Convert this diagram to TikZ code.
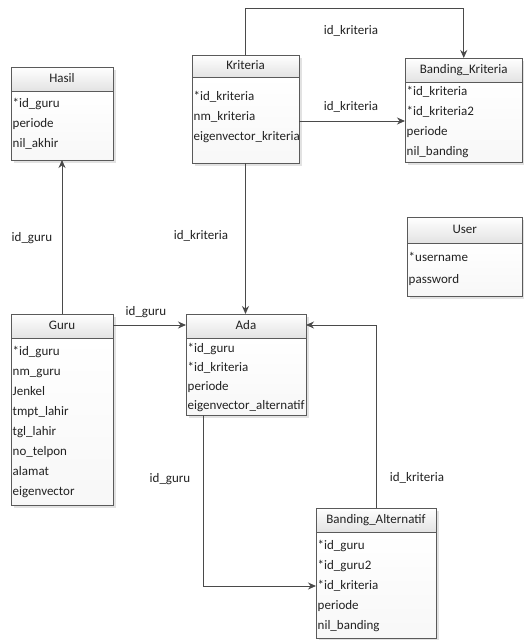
\documentclass[tikz,border=0pt]{standalone}
\usepackage{fontspec}
\setmainfont{Carlito}
\usetikzlibrary{arrows.meta}
\definecolor{framec}{HTML}{5A5A5A}
\definecolor{linec}{HTML}{4A4A4A}
\definecolor{txtc}{HTML}{222222}
\definecolor{shadowc}{HTML}{E2E2E2}
\newcommand{\rp}{20}
% #1 name, #2 left, #3 top, #4 right, #5 header bottom, #6 bottom, #7 title, #8 first row y, #9 rows
\newcommand{\erbox}[9]{%
  \fill[shadowc] (#2+2.5,#3+2.5) rectangle (#4+2.5,#6+2.5);
  \shade[top color=white,bottom color=gray!6] (#2,#5) rectangle (#4,#6);
  \shade[top color=white,bottom color=gray!22] (#2,#3) rectangle (#4,#5);
  \node[erframe, minimum width=#4-#2, minimum height=#6-#3, anchor=north west] (#1) at (#2,#3) {};
  \draw[erline] (#2,#5) -- (#4,#5);
  \node[hdrtxt] (#1-title) at ({(#2+#4)/2},{(#3+#5)/2}) {#7};
  \foreach \rowt [count=\i] in {#9} {\node[rowtxt] (#1-row\i) at (#2+1.5,{#8+(\i-1)*\rp}) {\rowt};}
}
\tikzset{
  erframe/.style={draw=framec, line width=0.9pt, inner sep=0pt, outer sep=0pt, rectangle},
  erline/.style={draw=framec, line width=0.9pt},
  hdrtxt/.style={font=\fontsize{13}{15}\selectfont, text=txtc, inner sep=0pt, text height=9pt, text depth=3pt},
  rowtxt/.style={font=\fontsize{13}{15}\selectfont, text=txtc, inner sep=0pt, anchor=west, text height=9pt, text depth=3pt},
  lbl/.style={font=\fontsize{13}{15}\selectfont, text=txtc, inner sep=1pt, text height=9pt, text depth=3pt},
  conn/.style={draw=linec, line width=1pt, -{Stealth[length=8pt,width=7pt]}}
}
\begin{document}
\begin{tikzpicture}[x=1pt,y=-1pt]
\useasboundingbox (0,0) rectangle (524,640);
\fill[white] (0,0) rectangle (524,640);

\erbox{hasil}{11}{67}{113}{91}{160}{Hasil}{104}{*id\_guru,periode,nil\_akhir}
\erbox{kriteria}{192}{55}{299}{77}{163}{Kriteria}{97}{*id\_kriteria,nm\_kriteria,eigenvector\_kriteria}
\erbox{bk}{405}{58}{522.5}{82}{162}{Banding\_Kriteria}{92}{*id\_kriteria,*id\_kriteria2,periode,nil\_banding}
\renewcommand{\rp}{22}
\erbox{user}{407}{217}{522.5}{243}{296}{User}{258}{*username,password}
\renewcommand{\rp}{20.1}
\erbox{guru}{11}{314}{113}{338}{505}{Guru}{352}{*id\_guru,nm\_guru,Jenkel,tmpt\_lahir,tgl\_lahir,no\_telpon,alamat,eigenvector}
\renewcommand{\rp}{19.3}
\erbox{ada}{186}{314}{306}{338}{415}{Ada}{349}{*id\_guru,*id\_kriteria,periode,eigenvector\_alternatif}
\renewcommand{\rp}{20}
\erbox{ba}{316}{508}{436}{532}{638}{Banding\_Alternatif}{546}{*id\_guru,*id\_guru2,*id\_kriteria,periode,nil\_banding}

% connectors
\draw[conn] (kriteria.north) -- ++(0,-47) -| (bk.north);
\draw[conn] (kriteria.east |- 0,121) -- (bk.west |- 0,121);
\draw[conn] (kriteria.south) -- (kriteria.south |- ada.north);
\draw[conn] (guru.north) -- (hasil.south);
\draw[conn] (guru.east |- 0,325) -- (ada.west |- 0,325);
\draw[conn] ([xshift=17pt]ada.south west) |- (ba.west |- 0,586);
\draw[conn] (ba.north) |- (ada.east |- 0,325);

% labels
\node[lbl] (l1) at (351,31) {id\_kriteria};
\node[lbl] (l2) at (351,107) {id\_kriteria};
\node[lbl] (l3) at (201,236) {id\_kriteria};
\node[lbl] (l4) at (32,238) {id\_guru};
\node[lbl] (l5) at (146,312) {id\_guru};
\node[lbl] (l6) at (170,479) {id\_guru};
\node[lbl] (l7) at (417,478) {id\_kriteria};
\end{tikzpicture}
\end{document}
